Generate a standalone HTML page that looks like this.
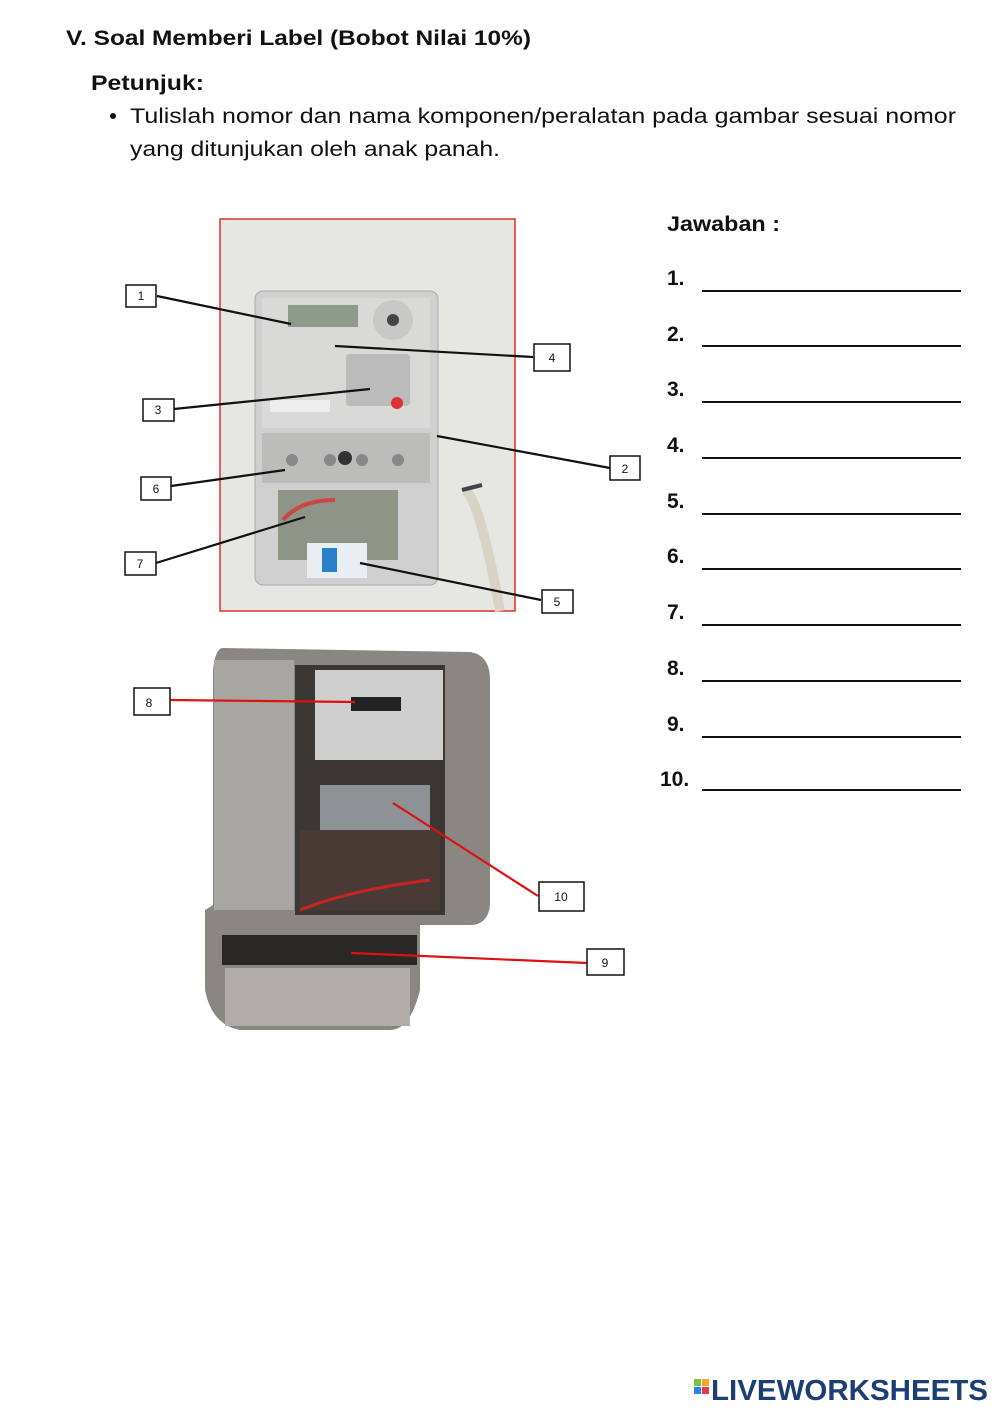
<!DOCTYPE html>
<html><head><meta charset="utf-8"><style>
body{margin:0;background:#fff;}
svg{display:block}
text{font-family:"Liberation Sans",sans-serif;}
</style></head><body>
<svg width="1000" height="1414" viewBox="0 0 1000 1414" xmlns="http://www.w3.org/2000/svg">
<rect width="1000" height="1414" fill="#fff"/>
<text x="66" y="45" font-size="21" font-weight="bold" fill="#111" textLength="465" lengthAdjust="spacingAndGlyphs">V. Soal Memberi Label (Bobot Nilai 10%)</text>
<text x="91" y="90" font-size="21" font-weight="bold" fill="#111" textLength="113" lengthAdjust="spacingAndGlyphs">Petunjuk:</text>
<circle cx="113" cy="116" r="3" fill="#111"/>
<text x="130" y="123" font-size="21" fill="#111" textLength="826" lengthAdjust="spacingAndGlyphs">Tulislah nomor dan nama komponen/peralatan pada gambar sesuai nomor</text>
<text x="130" y="156" font-size="21" fill="#111" textLength="370" lengthAdjust="spacingAndGlyphs">yang ditunjukan oleh anak panah.</text>

<!-- photo 1 -->
<rect x="220" y="219" width="295" height="392" fill="#e6e6e3" stroke="#d32" stroke-width="1.5"/>
<rect x="255" y="291" width="183" height="294" rx="8" fill="#cfd0cf" stroke="#aaa"/>
<rect x="262" y="298" width="168" height="130" fill="#d9dad8"/>
<rect x="288" y="305" width="70" height="22" fill="#8d9a8c"/>
<circle cx="393" cy="320" r="20" fill="#c8c8c6"/><circle cx="393" cy="320" r="6" fill="#444"/>
<g fill="#bbb"><rect x="346" y="354" width="64" height="52" rx="4"/></g>
<circle cx="397" cy="403" r="6" fill="#d33"/>
<rect x="270" y="400" width="60" height="12" fill="#eee"/>
<rect x="262" y="433" width="168" height="50" fill="#bcbcba"/>
<g fill="#888"><circle cx="292" cy="460" r="6"/><circle cx="330" cy="460" r="6"/><circle cx="345" cy="458" r="7" fill="#333"/><circle cx="362" cy="460" r="6"/><circle cx="398" cy="460" r="6"/></g>
<rect x="278" y="490" width="120" height="70" fill="#8e9488"/>
<path d="M283 520 Q300 500 335 500" stroke="#c44" stroke-width="4" fill="none"/>
<rect x="307" y="543" width="60" height="35" fill="#e9eef2"/><rect x="322" y="548" width="15" height="24" fill="#2a80c8"/>
<path d="M465 490 Q480 500 500 611" stroke="#d9d3c5" stroke-width="10" fill="none"/>
<path d="M462 490 l20 -5" stroke="#444" stroke-width="4"/>

<!-- photo 2 -->
<path d="M222 648 L470 652 Q490 655 490 680 L490 905 Q488 925 470 925 L420 925 L420 990 Q410 1030 390 1030 L240 1030 Q212 1025 205 990 L205 910 L213 905 L213 670 Q215 650 222 648Z" fill="#8a8783"/>
<rect x="214" y="660" width="80" height="250" fill="#a8a6a2"/>
<rect x="295" y="665" width="150" height="250" fill="#3a3734"/>
<rect x="315" y="670" width="128" height="90" fill="#cfcfcf"/>
<rect x="351" y="697" width="50" height="14" fill="#222"/>
<rect x="320" y="785" width="110" height="45" fill="#8e9196"/>
<rect x="300" y="830" width="140" height="80" fill="#4a3a36"/>
<path d="M300 910 Q350 890 430 880" stroke="#c22" stroke-width="3" fill="none"/>
<rect x="222" y="935" width="195" height="30" fill="#2a2826"/>
<rect x="225" y="968" width="185" height="58" fill="#b2aca8"/>

<!-- black connectors -->
<g stroke="#111" stroke-width="2.2" fill="none">
<line x1="157" y1="296" x2="291" y2="324"/>
<line x1="533" y1="357" x2="335" y2="346"/>
<line x1="174" y1="409" x2="370" y2="389"/>
<line x1="610" y1="468" x2="437" y2="436"/>
<line x1="171" y1="486" x2="285" y2="470"/>
<line x1="156" y1="563" x2="305" y2="517"/>
<line x1="541" y1="600" x2="360" y2="563"/>
</g>
<g stroke="#d11" stroke-width="2.2" fill="none">
<line x1="170" y1="700" x2="355" y2="702"/>
<line x1="538" y1="896" x2="393" y2="803"/>
<line x1="587" y1="963" x2="351" y2="953"/>
</g>
<g fill="#fff" stroke="#111" stroke-width="1.5" font-size="12">
<rect x="126" y="285" width="30" height="22"/>
<rect x="534" y="344" width="36" height="27"/>
<rect x="143" y="399" width="31" height="22"/>
<rect x="610" y="456" width="30" height="24"/>
<rect x="141" y="477" width="30" height="23"/>
<rect x="125" y="552" width="31" height="23"/>
<rect x="542" y="590" width="31" height="23"/>
<rect x="134" y="688" width="36" height="27"/>
<rect x="539" y="882" width="45" height="29"/>
<rect x="587" y="949" width="37" height="26"/>
</g>
<g font-size="12" fill="#111" text-anchor="middle">
<text x="141" y="300">1</text><text x="552" y="362">4</text><text x="158" y="414">3</text>
<text x="625" y="473">2</text><text x="156" y="493">6</text><text x="140" y="568">7</text>
<text x="557" y="606">5</text><text x="149" y="707">8</text><text x="561" y="901">10</text>
<text x="605" y="967">9</text>
</g>

<!-- answers -->
<text x="667" y="231" font-size="21" font-weight="bold" fill="#111" textLength="113" lengthAdjust="spacingAndGlyphs">Jawaban :</text>
<g font-size="21" font-weight="bold" fill="#111">
<text x="667" y="285">1.</text><text x="667" y="341">2.</text><text x="667" y="396">3.</text>
<text x="667" y="452">4.</text><text x="667" y="508">5.</text><text x="667" y="563">6.</text>
<text x="667" y="619">7.</text><text x="667" y="675">8.</text><text x="667" y="731">9.</text>
<text x="660" y="786">10.</text>
</g>
<g stroke="#111" stroke-width="2">
<line x1="702" y1="291" x2="961" y2="291"/><line x1="702" y1="346" x2="961" y2="346"/>
<line x1="702" y1="402" x2="961" y2="402"/><line x1="702" y1="458" x2="961" y2="458"/>
<line x1="702" y1="514" x2="961" y2="514"/><line x1="702" y1="569" x2="961" y2="569"/>
<line x1="702" y1="625" x2="961" y2="625"/><line x1="702" y1="681" x2="961" y2="681"/>
<line x1="702" y1="737" x2="961" y2="737"/><line x1="702" y1="790" x2="961" y2="790"/>
</g>

<!-- logo -->
<rect x="694" y="1379" width="7" height="7" fill="#7cc242"/><rect x="702" y="1379" width="7" height="7" fill="#f5a623"/>
<rect x="694" y="1387" width="7" height="7" fill="#2f80ed"/><rect x="702" y="1387" width="7" height="7" fill="#e53950"/>
<text x="711" y="1400" font-size="29" font-weight="bold" fill="#1d3e74" textLength="277" lengthAdjust="spacingAndGlyphs">LIVEWORKSHEETS</text>
</svg>
</body></html>
